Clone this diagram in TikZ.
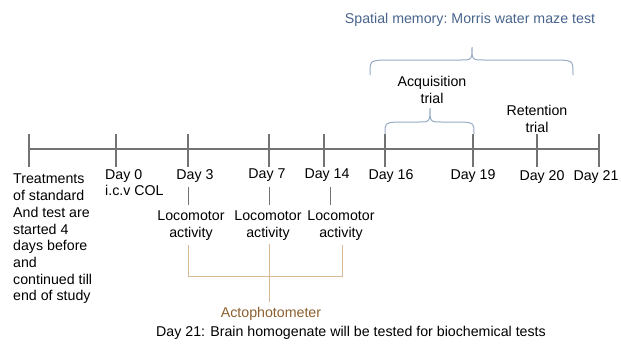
\documentclass[tikz,border=0pt]{standalone}
\usepackage{fontspec}
\setmainfont{Liberation Sans}
\definecolor{axis_grey}{RGB}{115, 115, 115}
\definecolor{mwm_blue}{RGB}{72, 100, 140}
\definecolor{brace_blue}{RGB}{150, 170, 195}
\definecolor{acto_tan}{RGB}{215, 185, 150}
\definecolor{acto_brown}{RGB}{140, 95, 45}
\tikzstyle{none}=[inner sep=0pt]
\tikzstyle{lbl}=[inner sep=0pt,align=center,font=\fontsize{14.2}{16.7}\selectfont]
\tikzstyle{llbl}=[inner sep=0pt,align=left,font=\fontsize{14.2}{16.7}\selectfont]
\tikzstyle{axis}=[draw=axis_grey,line width=1.2pt]
\tikzstyle{acto}=[draw=acto_tan,line width=1pt]
\tikzstyle{curly}=[draw=brace_blue,line width=1pt]

\begin{document}
\begin{tikzpicture}[x=1pt,y=-1pt]
            \useasboundingbox (0, 0) rectangle (621, 349);
            % time axis
            \node [style=none] (0) at (29, 149) {};
            \node [style=none] (1) at (600, 149) {};
            \draw [style=axis] (0.center) to (1.center);
            % ticks
            \node [style=none] (10) at (29, 134) {};
            \node [style=none] (11) at (29, 167) {};
            \node [style=none] (12) at (116, 134) {};
            \node [style=none] (13) at (116, 167) {};
            \node [style=none] (14) at (188, 134) {};
            \node [style=none] (15) at (188, 167) {};
            \node [style=none] (16) at (269, 134) {};
            \node [style=none] (17) at (269, 167) {};
            \node [style=none] (18) at (324, 134) {};
            \node [style=none] (19) at (324, 167) {};
            \node [style=none] (20) at (385, 134) {};
            \node [style=none] (21) at (385, 167) {};
            \node [style=none] (22) at (473, 134) {};
            \node [style=none] (23) at (473, 167) {};
            \node [style=none] (24) at (537, 134) {};
            \node [style=none] (25) at (537, 167) {};
            \node [style=none] (26) at (599, 134) {};
            \node [style=none] (27) at (599, 167) {};
            \draw [style=axis] (10.center) to (11.center);
            \draw [style=axis] (12.center) to (13.center);
            \draw [style=axis] (14.center) to (15.center);
            \draw [style=axis] (16.center) to (17.center);
            \draw [style=axis] (18.center) to (19.center);
            \draw [style=axis] (20.center) to (21.center);
            \draw [style=axis] (22.center) to (23.center);
            \draw [style=axis] (24.center) to (25.center);
            \draw [style=axis] (26.center) to (27.center);
            % day labels
            \node [style=llbl, anchor=north west] (30) at (13, 174) {Treatments\\of standard\\And test are\\started 4\\days before\\and\\continued till\\end of study};
            \node [style=llbl, anchor=north west] (31) at (105, 169) {Day 0\\i.c.v COL};
            \node [style=lbl, anchor=north] (32) at (195, 169) {Day 3};
            \node [style=lbl, anchor=north] (33) at (267, 169) {Day 7};
            \node [style=lbl, anchor=north] (34) at (327, 169) {Day 14};
            \node [style=lbl, anchor=north] (35) at (391, 169) {Day 16};
            \node [style=lbl, anchor=north] (36) at (473, 169) {Day 19};
            \node [style=lbl, anchor=north] (37) at (542, 170) {Day 20};
            \node [style=lbl, anchor=north] (38) at (596, 170) {Day 21};
            % locomotor activity
            \node [style=none] (40) at (188, 187) {};
            \node [style=none] (41) at (188, 205) {};
            \node [style=none] (42) at (269, 187) {};
            \node [style=none] (43) at (269, 205) {};
            \node [style=none] (44) at (330, 187) {};
            \node [style=none] (45) at (330, 205) {};
            \draw [style=axis, line width=1pt] (40.center) to (41.center);
            \draw [style=axis, line width=1pt] (42.center) to (43.center);
            \draw [style=axis, line width=1pt] (44.center) to (45.center);
            \node [style=lbl, anchor=north] (46) at (191, 211) {Locomotor\\activity};
            \node [style=lbl, anchor=north] (47) at (268, 211) {Locomotor\\activity};
            \node [style=lbl, anchor=north] (48) at (341, 211) {Locomotor\\activity};
            % actophotometer
            \node [style=none] (50) at (188, 245) {};
            \node [style=none] (51) at (188, 276) {};
            \node [style=none] (52) at (342, 245) {};
            \node [style=none] (53) at (342, 276) {};
            \node [style=none] (54) at (269, 244) {};
            \node [style=none] (55) at (269, 302) {};
            \draw [style=acto] (50.center) to (51.center) to (53.center) to (52.center);
            \draw [style=acto] (54.center) to (55.center);
            \node [style=lbl, text=acto_brown] (56) at (271, 314) {Actophotometer};
            % morris water maze
            \node [style=lbl, text=mwm_blue] (60) at (470, 20) {Spatial memory:\ Morris water maze test};
            \node [style=none] (61) at (370, 75) {};
            \node [style=none] (62) at (573, 75) {};
            \draw [style=curly] (61.center) .. controls (370, 61) .. (382, 60) -- (460, 60)
                .. controls (472, 60) .. (472, 47) .. controls (472, 60) .. (484, 60)
                -- (561, 60) .. controls (573, 61) .. (62.center);
            \node [style=lbl] (63) at (432, 90) {Acquisition\\trial};
            \node [style=none] (64) at (385, 134) {};
            \node [style=none] (65) at (474, 134) {};
            \draw [style=curly] (64.center) .. controls (385, 123) .. (396, 122) -- (418, 122)
                .. controls (430, 122) .. (430, 108) .. controls (430, 122) .. (442, 122)
                -- (463, 122) .. controls (474, 123) .. (65.center);
            \node [style=lbl] (66) at (537, 119) {Retention\\trial};
            % note
            \node [style=lbl] (70) at (351, 333) {Day 21: Brain homogenate\ will be tested for biochemical tests};
    \end{tikzpicture}
\end{document}
